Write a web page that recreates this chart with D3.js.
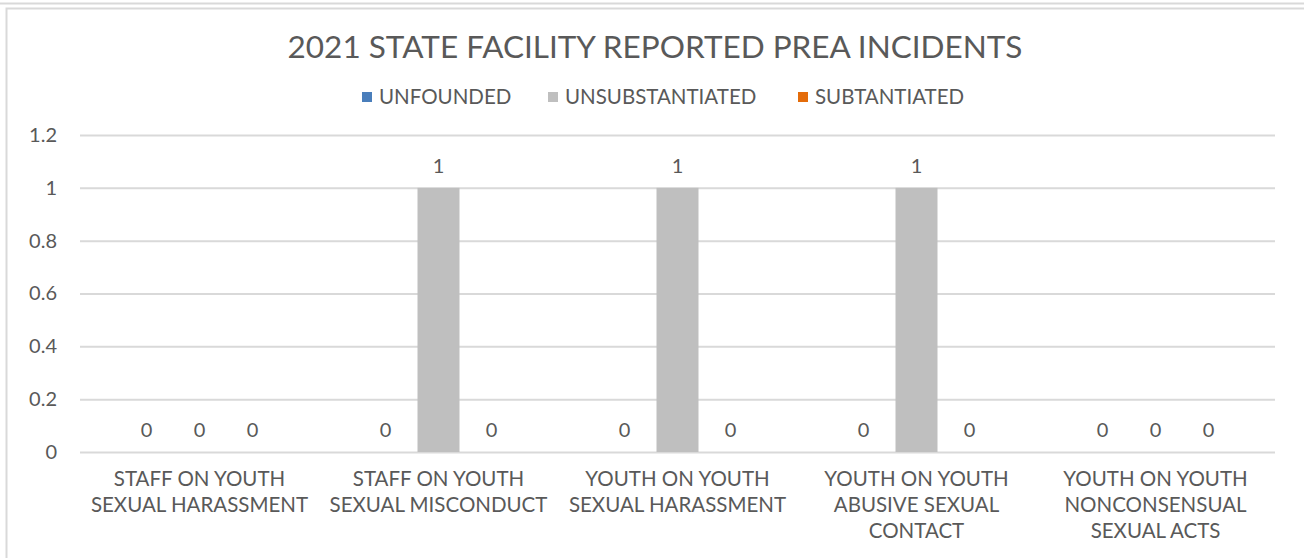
<!DOCTYPE html>
<html>
<head>
<meta charset="utf-8">
<script src="https://cdn.jsdelivr.net/npm/d3@7"></script>
<style>
  body { margin: 0; background: #fff; }
  svg text { font-family: Lato, "Open Sans", sans-serif; fill: #595959; }
</style>
</head>
<body>
<div id="chart"></div>
<script>
var categories = [
    ["STAFF ON YOUTH", "SEXUAL HARASSMENT"],
    ["STAFF ON YOUTH", "SEXUAL MISCONDUCT"],
    ["YOUTH ON YOUTH", "SEXUAL HARASSMENT"],
    ["YOUTH ON YOUTH", "ABUSIVE SEXUAL", "CONTACT"],
    ["YOUTH ON YOUTH", "NONCONSENSUAL", "SEXUAL ACTS"]
];
var seriesNames = ["UNFOUNDED", "UNSUBSTANTIATED", "SUBTANTIATED"];
var unfounded = [0, 0, 0, 0, 0];
var unsubstantiated = [0, 1, 1, 1, 0];
var substantiated = [0, 0, 0, 0, 0];
var yTicks = [0, 0.2, 0.4, 0.6, 0.8, 1, 1.2];
var colors = ["#4a7ebb", "#bfbfbf", "#e46c0a"];

var seriesValues = [unfounded, unsubstantiated, substantiated];

var width = 1304, height = 558;
var margin = {top: 135, right: 29, bottom: 106, left: 80};

var svg = d3.select("#chart").append("svg")
    .attr("width", width)
    .attr("height", height);

// frame
svg.append("line")
    .attr("x1", 0).attr("x2", width)
    .attr("y1", 3.5).attr("y2", 3.5)
    .attr("stroke", "#d9d9d9").attr("stroke-width", 2);
svg.append("rect")
    .attr("x", 6.5).attr("y", 8.5)
    .attr("width", width + 10).attr("height", height + 10)
    .attr("fill", "none")
    .attr("stroke", "#d9d9d9").attr("stroke-width", 2);

var catIdx = categories.map(function (d, i) { return i; });

var x0 = d3.scaleBand()
    .domain(catIdx)
    .range([margin.left, width - margin.right])
    .paddingInner(0.335)
    .paddingOuter(0.1675);

var x1 = d3.scaleBand()
    .domain(seriesNames)
    .range([0, x0.bandwidth()])
    .paddingInner(0.2075)
    .paddingOuter(0.10375);

var y = d3.scaleLinear()
    .domain([0, 1.2])
    .range([height - margin.bottom - 0, margin.top]);

// title
svg.append("text")
    .attr("x", 655)
    .attr("y", 58)
    .attr("text-anchor", "middle")
    .style("font-size", "31.5px")
    .text("2021 STATE FACILITY REPORTED PREA INCIDENTS");

// legend
var legendX = [362, 548, 798];
var legend = svg.append("g").selectAll("g")
    .data(seriesNames)
    .enter().append("g")
    .attr("transform", function (d, i) { return "translate(" + legendX[i] + ",97)"; });
legend.append("rect")
    .attr("x", 0).attr("y", -5)
    .attr("width", 10).attr("height", 10)
    .attr("fill", function (d, i) { return colors[i]; });
legend.append("text")
    .attr("x", 17)
    .attr("dy", "0.35em")
    .style("font-size", "20.5px")
    .text(function (d) { return d; });

// y axis + grid
var yAxis = svg.append("g")
    .attr("transform", "translate(" + margin.left + ",0)")
    .call(d3.axisLeft(y)
        .tickValues(yTicks)
        .tickSize(-(width - margin.left - margin.right))
        .tickPadding(23)
        .tickFormat(function (d) { return d3.format("~g")(d); }));
yAxis.select(".domain").remove();
yAxis.selectAll(".tick line")
    .attr("stroke", "#d9d9d9")
    .attr("stroke-width", 2);
yAxis.selectAll(".tick text")
    .style("font-size", "20px")
    .style("font-family", "Lato, 'Open Sans', sans-serif")
    .attr("fill", "#595959");

// bars
var groups = svg.append("g").selectAll("g")
    .data(catIdx)
    .enter().append("g")
    .attr("transform", function (d) { return "translate(" + x0(d) + ",0)"; });

var cells = groups.selectAll("g")
    .data(function (c) {
        return seriesNames.map(function (s, k) {
            return {series: s, k: k, value: seriesValues[k][c]};
        });
    })
    .enter().append("g");

cells.append("rect")
    .attr("x", function (d) { return x1(d.series); })
    .attr("y", function (d) { return y(d.value); })
    .attr("width", x1.bandwidth())
    .attr("height", function (d) { return y(0) - y(d.value); })
    .attr("fill", function (d) { return colors[d.k]; });

cells.append("text")
    .attr("x", function (d) { return x1(d.series) + x1.bandwidth() / 2; })
    .attr("y", function (d) { return y(d.value) - 22; })
    .attr("dy", "0.35em")
    .attr("text-anchor", "middle")
    .style("font-size", "20px")
    .text(function (d) { return d.value; });

// category labels
var catLabels = svg.append("g").selectAll("text")
    .data(catIdx)
    .enter().append("text")
    .attr("x", function (d) { return x0(d) + x0.bandwidth() / 2; })
    .attr("y", 479)
    .attr("text-anchor", "middle")
    .style("font-size", "20.5px");

catLabels.selectAll("tspan")
    .data(function (d) { return categories[d]; })
    .enter().append("tspan")
    .attr("x", function () { var c = d3.select(this.parentNode).datum(); return x0(c) + x0.bandwidth() / 2; })
    .attr("y", function (d, i) { return 479 + i * 26; })
    .attr("dy", "0.35em")
    .text(function (d) { return d; });
</script>
</body>
</html>
